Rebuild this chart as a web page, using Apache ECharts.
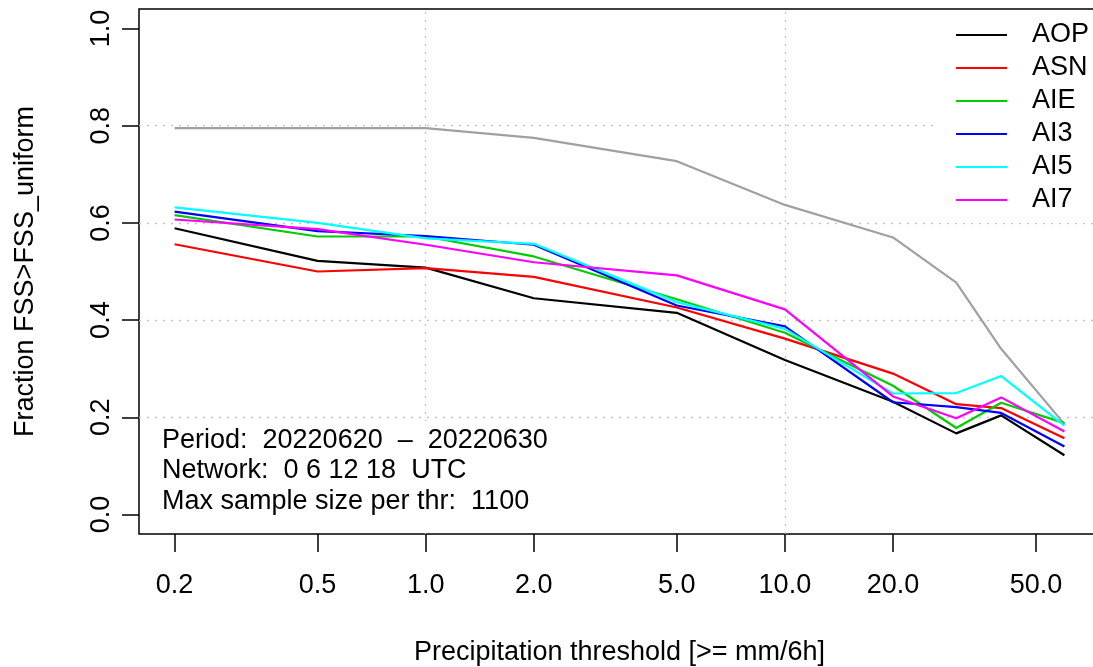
<!DOCTYPE html>
<html>
<head>
<meta charset="utf-8">
<script src="https://cdn.jsdelivr.net/npm/echarts@6/dist/echarts.min.js"></script>
<style>
html,body{margin:0;padding:0;background:#fff;}
#chart{width:1093px;height:667px;}
</style>
</head>
<body>
<div id="chart"></div>
<script>
// ---- data ----
var thresholds = [0.2, 0.5, 1, 2, 5, 10, 20, 30, 40, 60];
var xTickLabels = [0.2, 0.5, 1, 2, 5, 10, 20, 50];
var xGridValues = [1, 10];
var yTickLabels = [0, 0.2, 0.4, 0.6, 0.8, 1.0];
var seriesNames = ['AOP', 'ASN', 'AIE', 'AI3', 'AI5', 'AI7'];
var AOP = [0.589, 0.522, 0.508, 0.445, 0.415, 0.318, 0.232, 0.167, 0.204, 0.122];
var ASN = [0.556, 0.500, 0.507, 0.489, 0.426, 0.362, 0.290, 0.227, 0.219, 0.157];
var AIE = [0.616, 0.572, 0.572, 0.531, 0.443, 0.374, 0.265, 0.178, 0.230, 0.188];
var AI3 = [0.623, 0.583, 0.573, 0.555, 0.430, 0.387, 0.231, 0.221, 0.209, 0.140];
var AI5 = [0.632, 0.600, 0.568, 0.557, 0.437, 0.382, 0.249, 0.250, 0.285, 0.183];
var AI7 = [0.607, 0.587, 0.555, 0.519, 0.492, 0.422, 0.243, 0.198, 0.241, 0.171];
var reference = [0.795, 0.795, 0.795, 0.775, 0.727, 0.637, 0.570, 0.477, 0.341, 0.186];
var annotation = ['Period:  20220620  \u2013  20220630', 'Network:  0 6 12 18  UTC', 'Max sample size per thr:  1100'];

var colors = ['#000000', '#ff0000', '#00cd00', '#0000ff', '#00ffff', '#ff00ff'];
var FONT = 'Liberation Sans, Arial, Helvetica, sans-serif';
var GRIDLINE = { color: '#c4c4c4', type: [2, 6], width: 1.3 };

function pairs(ys) { return thresholds.map(function (t, i) { return [t, ys[i]]; }); }

var values = [AOP, ASN, AIE, AI3, AI5, AI7];
var series = [{
  name: 'ref', type: 'line', data: pairs(reference), symbol: 'none',
  lineStyle: { color: '#a0a0a0', width: 2.2 }, itemStyle: { color: '#a0a0a0' }, z: 2,
  silent: true,
  markLine: {
    silent: true, symbol: ['none', 'none'], label: { show: false }, z: 1,
    lineStyle: GRIDLINE, emphasis: { disabled: true },
    data: xGridValues.map(function (v) { return { xAxis: v }; })
  }
}];
seriesNames.forEach(function (n, i) {
  series.push({
    name: n, type: 'line', data: pairs(values[i]), symbol: 'none',
    lineStyle: { color: colors[i], width: 2.2 }, itemStyle: { color: colors[i] }, z: 3
  });
});

var chart = echarts.init(document.getElementById('chart'), null, { renderer: 'canvas' });
var xmin = Math.pow(10, Math.log10(0.2) - 0.0991);
var xmax = Math.pow(10, Math.log10(60) + 0.0991);
chart.setOption({
  animation: false,
  backgroundColor: '#ffffff',
  textStyle: { fontFamily: FONT },
  grid: { left: 139, top: 9, right: -7, bottom: 133, outerBoundsMode: 'none', containLabel: false,
    show: true, borderColor: '#000', borderWidth: 1.5, backgroundColor: 'transparent' },
  xAxis: {
    type: 'log', logBase: 10, min: xmin, max: xmax,
    name: 'Precipitation threshold [>= mm/6h]', nameLocation: 'middle', nameGap: 105,
    nameTextStyle: { fontSize: 27, color: '#000', fontFamily: FONT },
    axisLine: { show: false, onZero: false },
    axisTick: { show: true, inside: false, length: 18, customValues: xTickLabels, lineStyle: { color: '#000', width: 1.5 } },
    axisLabel: { show: true, customValues: xTickLabels, margin: 38, fontSize: 27, color: '#000', fontFamily: FONT,
      formatter: function (v) { return (+v).toFixed(1); } },
    splitLine: { show: false }
  },
  yAxis: {
    type: 'value', min: -0.04, max: 1.04,
    name: 'Fraction FSS>FSS_uniform', nameLocation: 'middle', nameGap: 100,
    nameTextStyle: { fontSize: 27, color: '#000', fontFamily: FONT },
    axisLine: { show: false, onZero: false },
    axisTick: { show: true, length: 17, customValues: yTickLabels, lineStyle: { color: '#000', width: 1.5 } },
    axisLabel: { show: true, customValues: yTickLabels, rotate: 90, margin: 24, fontSize: 27, color: '#000', fontFamily: FONT,
      formatter: function (v) { return (+v).toFixed(1); } },
    splitLine: { show: true, showMinLine: false, showMaxLine: false, lineStyle: GRIDLINE }
  },
  legend: {
    data: seriesNames, orient: 'vertical', left: 937, top: 11,
    padding: [9, 10, 8, 19], itemGap: 3, itemWidth: 51, itemHeight: 2, icon: 'rect',
    backgroundColor: '#ffffff', borderWidth: 0, borderColor: '#ffffff',
    textStyle: { fontSize: 27, lineHeight: 30, color: '#000', fontFamily: FONT, padding: [0, 0, 0, 20] },
    selectedMode: false
  },
  graphic: [
    { type: 'rect', z: 5, shape: { x: 141, y: 421, width: 420, height: 112 }, style: { fill: '#ffffff' }, silent: true },
    { type: 'text', z: 6, x: 162, y: 441, style: { text: annotation[0], fontSize: 27, fontFamily: FONT, fill: '#000', verticalAlign: 'middle' } },
    { type: 'text', z: 6, x: 162, y: 471, style: { text: annotation[1], fontSize: 27, fontFamily: FONT, fill: '#000', verticalAlign: 'middle' } },
    { type: 'text', z: 6, x: 162, y: 502, style: { text: annotation[2], fontSize: 27, fontFamily: FONT, fill: '#000', verticalAlign: 'middle' } }
  ],
  series: series
});
</script>
</body>
</html>
